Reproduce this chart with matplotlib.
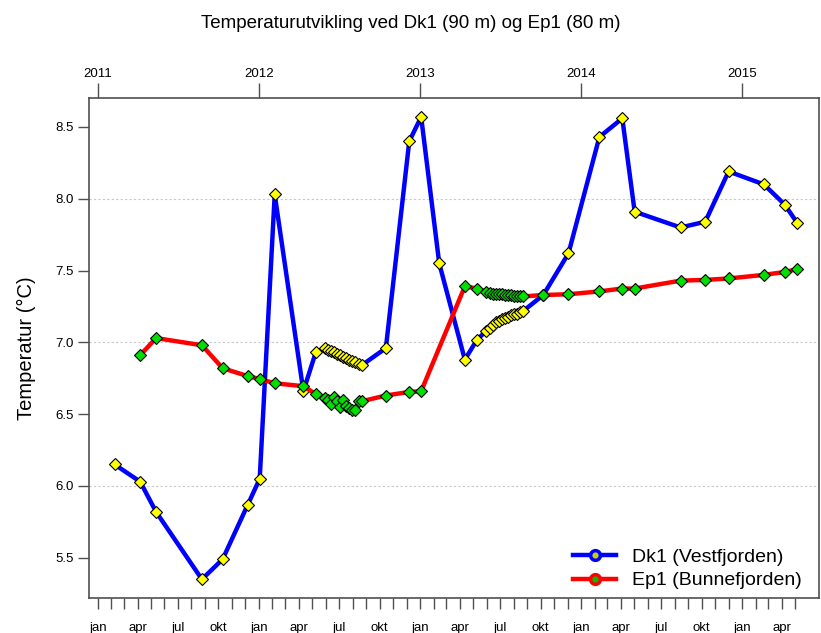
import matplotlib
matplotlib.use("Agg")
import matplotlib.pyplot as plt
from matplotlib.lines import Line2D
import pandas as pd

plt.rcParams['font.family'] = ['Liberation Sans', 'DejaVu Sans']

# === Data ===
dk1_dates = [
    "2011-02-08", "2011-04-07", "2011-05-13", "2011-08-25", "2011-10-11", "2011-12-07",
    "2012-01-03", "2012-02-06", "2012-04-11", "2012-05-09",
    "2012-05-29", "2012-06-05", "2012-06-12", "2012-06-19", "2012-06-26", "2012-07-03",
    "2012-07-10", "2012-07-17", "2012-07-24", "2012-07-31", "2012-08-07", "2012-08-14",
    "2012-08-21",
    "2012-10-15", "2012-12-07", "2013-01-03", "2013-02-13", "2013-04-12", "2013-05-10",
    "2013-05-31", "2013-06-07", "2013-06-14", "2013-06-21", "2013-06-28", "2013-07-05",
    "2013-07-12", "2013-07-19", "2013-07-26", "2013-08-02", "2013-08-09", "2013-08-16",
    "2013-08-23",
    "2013-10-07", "2013-12-03", "2014-02-11", "2014-04-04", "2014-05-02", "2014-08-14",
    "2014-10-09", "2014-12-01", "2015-02-19", "2015-04-07", "2015-05-06",
]
dk1_temp = [
    6.15, 6.03, 5.82, 5.35, 5.49, 5.87,
    6.05, 8.03, 6.66, 6.93,
    6.96, 6.95, 6.94, 6.93, 6.92, 6.91,
    6.90, 6.89, 6.88, 6.87, 6.86, 6.85,
    6.84,
    6.96, 8.40, 8.57, 7.55, 6.88, 7.02,
    7.08, 7.10, 7.12, 7.14, 7.15, 7.16,
    7.17, 7.18, 7.19, 7.20, 7.20, 7.21,
    7.22,
    7.33, 7.62, 8.43, 8.56, 7.91, 7.80,
    7.84, 8.19, 8.10, 7.96, 7.83,
]

ep1_dates = [
    "2011-04-07", "2011-05-13", "2011-08-25", "2011-10-11", "2011-12-07",
    "2012-01-03", "2012-02-06", "2012-04-11", "2012-05-09",
    "2012-05-29", "2012-06-05", "2012-06-12", "2012-06-19", "2012-06-26", "2012-07-03",
    "2012-07-10", "2012-07-17", "2012-07-24", "2012-07-31", "2012-08-07", "2012-08-14",
    "2012-08-21",
    "2012-10-15", "2012-12-07", "2013-01-03", "2013-04-12", "2013-05-10",
    "2013-05-31", "2013-06-07", "2013-06-14", "2013-06-21", "2013-06-28", "2013-07-05",
    "2013-07-12", "2013-07-19", "2013-07-26", "2013-08-02", "2013-08-09", "2013-08-16",
    "2013-08-23",
    "2013-10-07", "2013-12-03", "2014-02-11", "2014-04-04", "2014-05-02", "2014-08-14",
    "2014-10-09", "2014-12-01", "2015-02-19", "2015-04-07", "2015-05-06",
]
ep1_temp = [
    6.91, 7.03, 6.98, 6.82, 6.765,
    6.745, 6.715, 6.695, 6.64,
    6.61, 6.60, 6.57, 6.62, 6.59, 6.55,
    6.60, 6.56, 6.54, 6.53, 6.53, 6.59,
    6.59,
    6.63, 6.655, 6.66, 7.39, 7.375,
    7.35, 7.345, 7.34, 7.34, 7.335, 7.335,
    7.33, 7.33, 7.33, 7.325, 7.325, 7.32,
    7.32,
    7.33, 7.335, 7.355, 7.375, 7.375, 7.43,
    7.435, 7.445, 7.47, 7.49, 7.51,
]

series_names = ["Dk1 (Vestfjorden)", "Ep1 (Bunnefjorden)"]
year_labels = ["2011", "2012", "2013", "2014", "2015"]
month_names = ["jan", "apr", "jul", "okt"]
y_ticks = [5.5, 6.0, 6.5, 7.0, 7.5, 8.0, 8.5]

dk1_x = pd.to_datetime(dk1_dates)
ep1_x = pd.to_datetime(ep1_dates)

# === Figure ===
fig = plt.figure(figsize=(8.21, 6.33), dpi=100)
ax = fig.add_axes([0.1084, 0.0553, 0.8892, 0.7895])

frame_col = "#505050"
for s in ax.spines.values():
    s.set_color(frame_col)
    s.set_linewidth(1.2)

ax.set_xlim(pd.Timestamp("2010-12-12"), pd.Timestamp("2015-06-24"))
ax.set_ylim(5.22, 8.70)

for yv in [6.0, 7.0, 8.0]:
    ax.axhline(yv, color="#c8c8c8", lw=0.8, ls=(0, (2, 2)), zorder=0)

ax.plot(dk1_x, dk1_temp, color="#0000ff", lw=3.2, zorder=2)
ax.plot(dk1_x, dk1_temp, ls="none", marker="D", ms=6.3, mfc="#ffff00",
        mec="black", mew=0.8, zorder=3)
ax.plot(ep1_x, ep1_temp, color="#ff0000", lw=3.2, zorder=4)
ax.plot(ep1_x, ep1_temp, ls="none", marker="D", ms=6.3, mfc="#00e000",
        mec="black", mew=0.8, zorder=5)

# y axis
ax.set_yticks(y_ticks)
ax.set_yticklabels([f"{v:.1f}" for v in y_ticks])
ax.tick_params(axis="y", direction="out", length=8, width=1, color=frame_col,
               labelsize=9.5, pad=3)
ax.set_ylabel("Temperatur (°C)", fontsize=14.5, labelpad=14)

# bottom axis: monthly ticks, labels every 3 months
month_ticks = pd.date_range("2011-01-01", "2015-05-01", freq="MS")
ax.set_xticks(month_ticks)
ax.set_xticklabels([month_names[(d.month - 1) // 3] if (d.month - 1) % 3 == 0 else ""
                    for d in month_ticks])
ax.tick_params(axis="x", direction="out", length=8, width=1, color=frame_col,
               labelsize=9.5, pad=9)

# top axis: years
ax2 = ax.twiny()
ax2.set_xlim(ax.get_xlim())
ax2.set_xticks(pd.to_datetime([f"{y}-01-01" for y in year_labels]))
ax2.set_xticklabels(year_labels)
ax2.tick_params(axis="x", direction="out", length=11, width=1, color=frame_col,
                labelsize=9.5, pad=2)
for s in ax2.spines.values():
    s.set_visible(False)

fig.suptitle("Temperaturutvikling ved Dk1 (90 m) og Ep1 (80 m)", fontsize=13.5,
             y=0.977)

handles = [
    Line2D([], [], color="#0000ff", lw=3.2, marker="o", ms=7, mfc="#c8d000",
           mec="#0000ff", mew=2.5),
    Line2D([], [], color="#ff0000", lw=3.2, marker="o", ms=7, mfc="#00c000",
           mec="#ff0000", mew=2.5),
]
ax.legend(handles, series_names, loc="lower right", frameon=False, fontsize=14,
          handlelength=2.2, handletextpad=0.8, labelspacing=0.3,
          bbox_to_anchor=(1.0, -0.018))

fig.savefig("out.png", dpi=100)
